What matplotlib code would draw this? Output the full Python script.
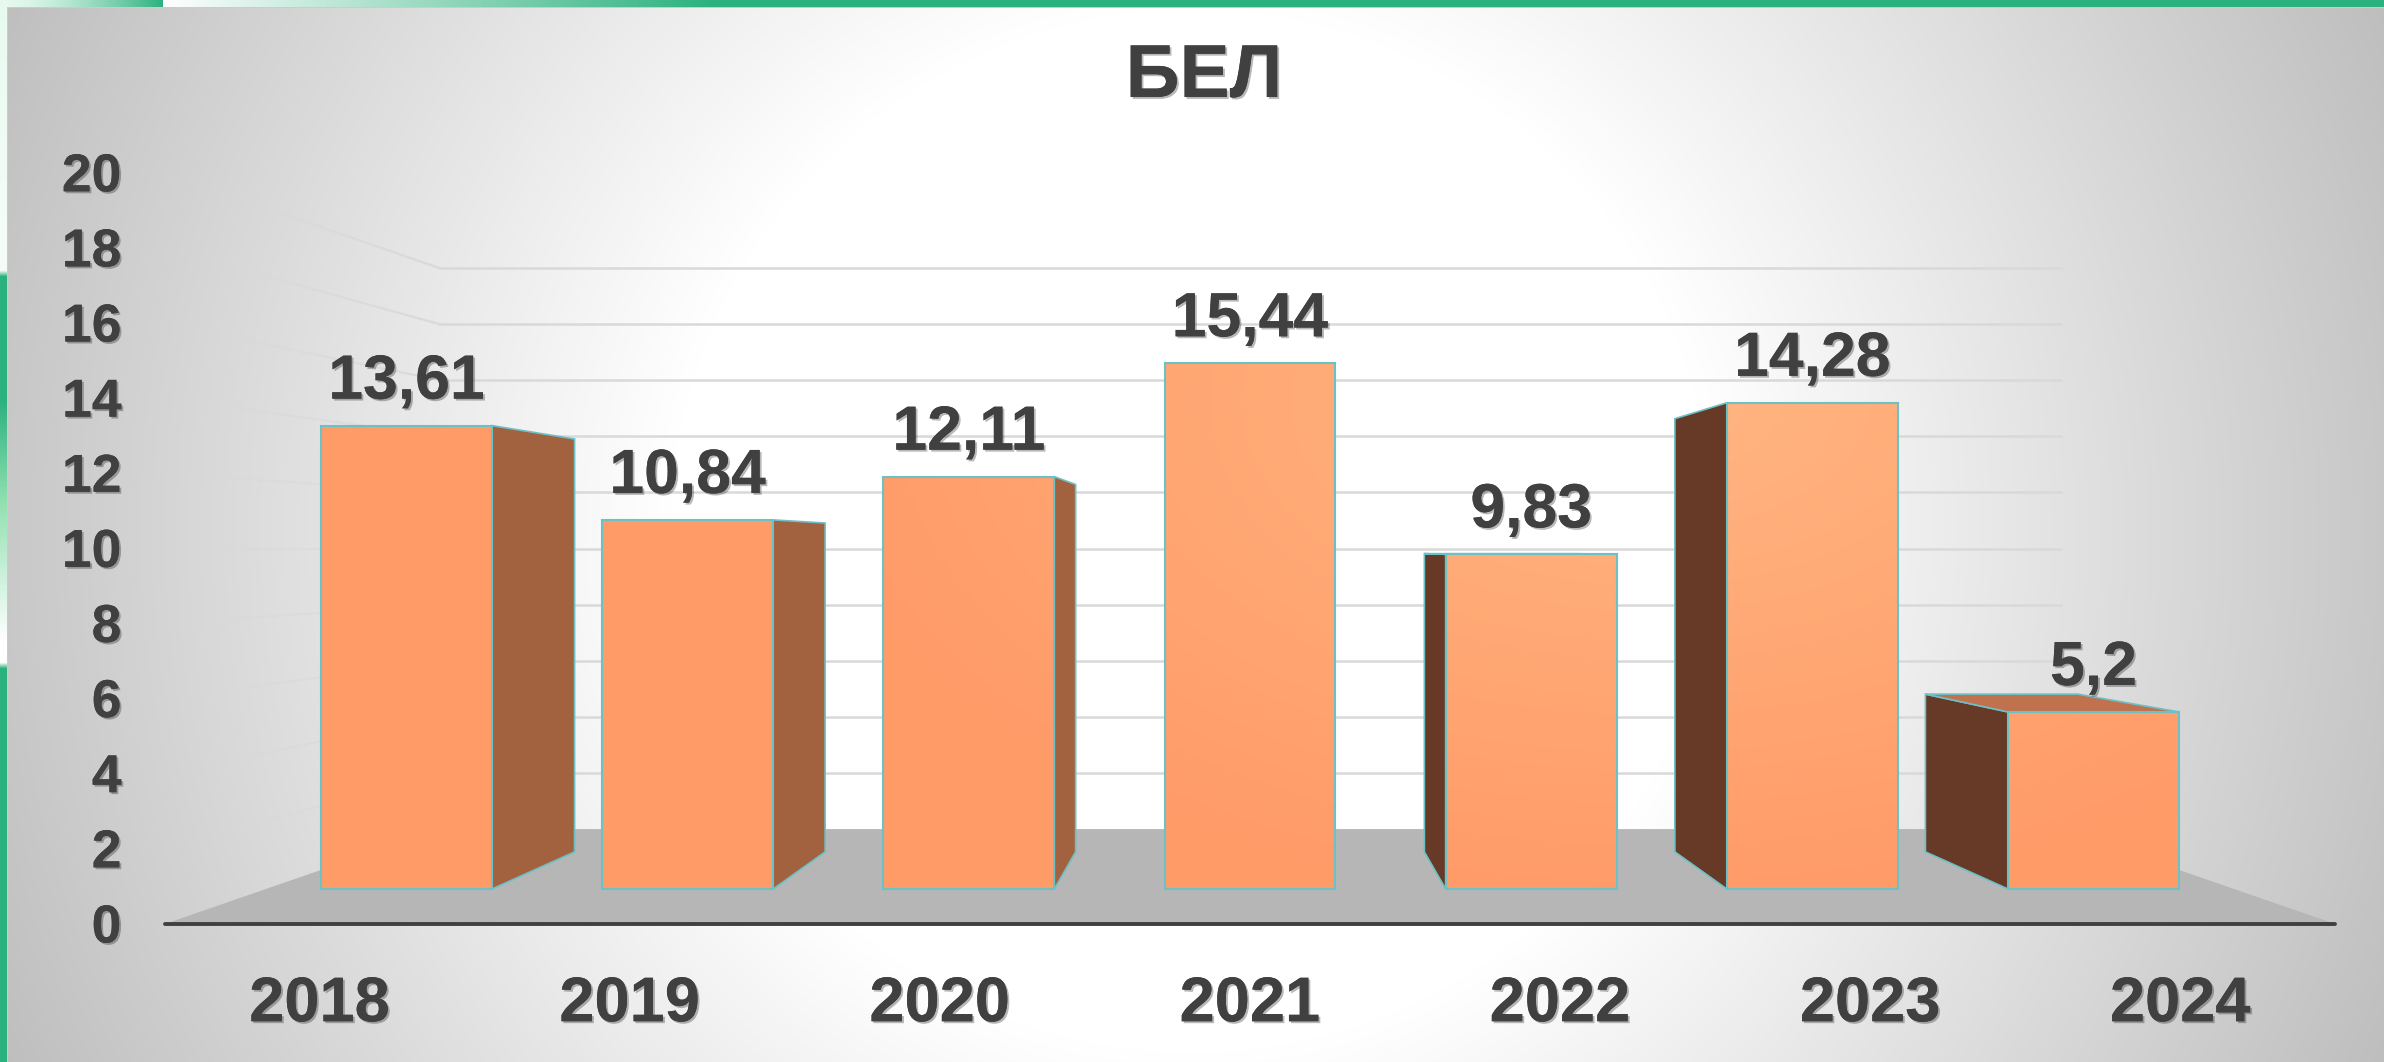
import numpy as np
import matplotlib
matplotlib.use("Agg")
import matplotlib.pyplot as plt
from matplotlib.patches import Polygon
from matplotlib.collections import LineCollection
import matplotlib.patheffects as pe

# ---- data ----
years = ["2018", "2019", "2020", "2021", "2022", "2023", "2024"]
values = [13.61, 10.84, 12.11, 15.44, 9.83, 14.28, 5.2]
value_labels = ["13,61", "10,84", "12,11", "15,44", "9,83", "14,28", "5,2"]
y_ticks = [0, 2, 4, 6, 8, 10, 12, 14, 16, 18, 20]
title = "БЕЛ"

# ---- perspective set-up ----
W, H = 2384, 1062
VP = (3.0, 10.0)          # vanishing point in (category, value)
S_AXIS, S_FRONT, S_BACK, S_WALL = 1.103, 1.0, 0.891, 0.824
BAR_HALF = 0.304
PX_X, PX_Y = 281.17, 34.05  # pixels per unit in the plane of the bar fronts
X0_PX, Y0_PX = 265.9, 889.0

def proj(c, v, s=1.0):
    return VP[0] + s * (c - VP[0]), VP[1] + s * (v - VP[1])

xlim = (-0.5 - X0_PX / PX_X, -0.5 + (W - X0_PX) / PX_X)
ylim = (-(H - Y0_PX) / PX_Y, Y0_PX / PX_Y)

plt.rcParams["font.family"] = ["Liberation Sans", "DejaVu Sans"]
fig = plt.figure(figsize=(W / 100, H / 100), dpi=100)
ax = fig.add_axes([0, 0, 1, 1])
ax.set_axis_off()

# ---- background ----
yy, xx = np.mgrid[0:H, 0:W]
r = np.hypot(xx - 1192, yy - 531) / 1305
t = np.clip((r - 0.40) / 0.60, 0, 1)
grey = 255 - t * (255 - 190)
bg = np.dstack([grey, grey, grey]) / 255.0

green = np.array([43, 177, 126]) / 255.0
white = np.array([1.0, 1.0, 1.0])
mint = np.array([232, 250, 240]) / 255.0
# top strip
for x in range(W):
    if x < 163:
        k = (x / 163) ** 1.5
        col = mint * (1 - k) + green * k
    elif x < 714:
        k = (x - 163) / 551
        col = white * (1 - k) + green * k
    else:
        col = green
    bg[0:7, x] = col
bg[7, 7:] = 0.8
# left strip
stops_y = [0, 270, 276, 400, 500, 640, 662, 668, H]
stops_c = [mint, mint * 0.4 + white * 0.6, green, green,
           np.array([144, 224, 176]) / 255.0, white, white, green, green]
for ch in range(3):
    bg[7:, 0:7, ch] = np.interp(yy[7:, 0:7], stops_y, [c[ch] for c in stops_c])
bg[7:, 7] = 0.8

extent = (xlim[0], xlim[1], ylim[0], ylim[1])
ax.imshow(bg, extent=extent, origin="upper", aspect="auto", zorder=0)

# ---- walls and floor ----
GRID = "#d9d9d9"
for v in y_ticks[1:]:
    x_back, y_back = proj(-0.5, v, S_WALL)
    x_right, _ = proj(6.5, v, S_WALL)
    ax.plot([x_back, x_right], [y_back, y_back], color=GRID, lw=1.8, zorder=1)
    # side wall line fades out towards the axis
    depth = np.linspace(S_AXIS, S_WALL, 25)
    pts = np.array([proj(-0.5, v, s) for s in depth])
    segs = np.stack([pts[:-1], pts[1:]], axis=1)
    alphas = np.linspace(0.1, 1.0, len(segs))
    cols = [matplotlib.colors.to_rgba(GRID, al) for al in alphas]
    ax.add_collection(LineCollection(segs, colors=cols, linewidths=1.6, zorder=1))

floor = [proj(-0.5, 0, S_AXIS), proj(6.5, 0, S_AXIS),
         proj(6.5, 0, S_WALL), proj(-0.5, 0, S_WALL)]
ax.add_patch(Polygon(floor, closed=True, fc="#b6b6b6", ec="none", zorder=2))
ax.plot([floor[0][0], floor[1][0]], [floor[0][1]] * 2, color="#404040",
        lw=2.8, solid_capstyle="round", zorder=2.5)

# ---- bar front shading ----
base = np.array([255, 155, 104]) / 255.0
light = np.array([255, 182, 130]) / 255.0
a = np.clip(1 - np.hypot((xx - 1650) / 850, (yy - 400) / 500), 0, 1)[..., None]
front_img = base * (1 - a) + light * a

EDGE = "#6cc1c6"
RIGHT_SIDE, LEFT_SIDE, TOP_FACE = "#a3623f", "#673a27", "#c0714d"

for i, v in enumerate(values):
    l, r_ = i - BAR_HALF, i + BAR_HALF
    if i != VP[0]:
        side_c = r_ if i < VP[0] else l
        side = [proj(side_c, 0, S_FRONT), proj(side_c, v, S_FRONT),
                proj(side_c, v, S_BACK), proj(side_c, 0, S_BACK)]
        ax.add_patch(Polygon(side, closed=True, lw=1.2, ec=EDGE, zorder=3,
                             fc=RIGHT_SIDE if i < VP[0] else LEFT_SIDE))
    if v < VP[1]:
        top = [proj(l, v, S_FRONT), proj(r_, v, S_FRONT),
               proj(r_, v, S_BACK), proj(l, v, S_BACK)]
        ax.add_patch(Polygon(top, closed=True, fc=TOP_FACE, ec=EDGE, lw=1.2, zorder=3))
    front = Polygon([(l, 0), (r_, 0), (r_, v), (l, v)], closed=True,
                    fc="none", ec=EDGE, lw=1.5, zorder=5)
    ax.add_patch(front)
    im = ax.imshow(front_img, extent=extent, origin="upper", aspect="auto", zorder=4)
    im.set_clip_path(front)

# ---- text ----
TEXT = "#404040"
shadow = [pe.withSimplePatchShadow(offset=(1.4, -1.4), shadow_rgbFace="black", alpha=0.28),
          pe.Normal()]

for i, lab in enumerate(value_labels):
    ax.annotate(lab, (i, values[i]), xytext=(0, 19.4), textcoords="offset points",
                ha="center", va="baseline", fontsize=45, fontweight="bold",
                color=TEXT, path_effects=shadow, zorder=6)

for v in y_ticks:
    ax.annotate(str(v), proj(-0.5, v, S_AXIS), xytext=(-31, 0.8), textcoords="offset points",
                ha="right", va="center_baseline", fontsize=38.5, fontweight="bold",
                color=TEXT, path_effects=shadow, zorder=6)

for i, lab in enumerate(years):
    ax.annotate(lab, proj(i, 0, S_AXIS), xytext=(0, -53.4), textcoords="offset points",
                ha="center", va="center_baseline", fontsize=45.5, fontweight="bold",
                color=TEXT, path_effects=shadow, zorder=6)

ax.text(0.505, 1 - 97 / H, title, transform=ax.transAxes, ha="center", va="baseline",
        fontsize=54, fontweight="bold", color=TEXT, path_effects=shadow, zorder=6)

ax.set_xlim(xlim)
ax.set_ylim(ylim)
fig.savefig("out.png", dpi=100)
